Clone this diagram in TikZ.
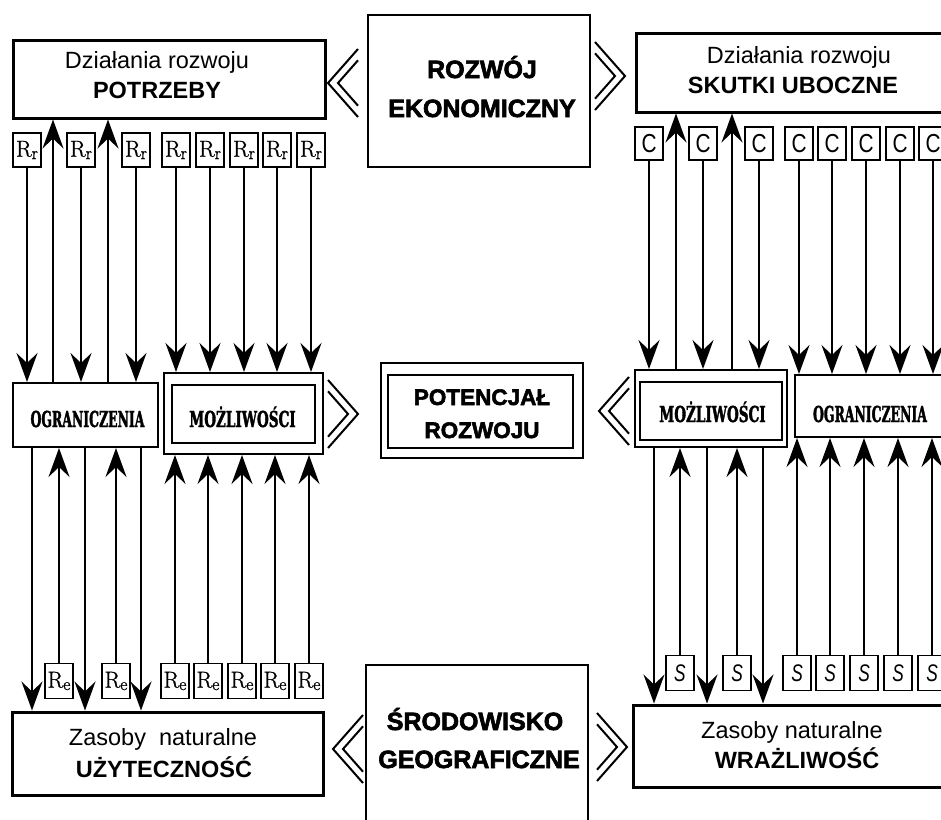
\documentclass[tikz,border=0pt]{standalone}
\usepackage{fontspec}
\setmainfont{Liberation Sans}
\newfontfamily\heavy[FakeBold=2.5]{Liberation Sans Bold}
\newfontfamily\slabA[FakeStretch=0.565,FakeBold=1.5]{DejaVu Serif Bold}
\newfontfamily\slabB[FakeStretch=0.615,FakeBold=1.5]{DejaVu Serif Bold}
\newfontfamily\rfont[FakeBold=0.8]{Latin Modern Roman}
\newfontfamily\sfit[FakeStretch=0.72]{Liberation Sans Italic}
\newfontfamily\cfont[FakeStretch=0.8]{Liberation Sans}
\usetikzlibrary{arrows.meta}
\newcommand{\rlab}[1]{{\rfont\fontsize{23}{23}\selectfont R\raisebox{-2.5pt}{\fontsize{18}{18}\selectfont #1}}}
\tikzset{
  bigbox/.style={draw, line width=3pt, inner sep=0pt},
  midbox/.style={draw, line width=2pt, inner sep=0pt},
  smallbox/.style={draw, line width=1.8pt, inner sep=0pt, minimum width=28pt, minimum height=34pt},
  arr/.style={line width=1.5pt, -{Stealth[length=29pt,width=21pt,inset=10pt]}},
  chev/.style={line width=2pt},
  lbl/.style={anchor=base, inner sep=0pt, font=\fontsize{23.5}{23.5}\selectfont},
  lblb/.style={anchor=base, inner sep=0pt, font=\fontsize{23.5}{23.5}\selectfont\bfseries},
  hv/.style={anchor=base, inner sep=0pt, font=\fontsize{25}{25}\selectfont\heavy},
  hvs/.style={anchor=base, inner sep=0pt, font=\fontsize{22.5}{22.5}\selectfont\heavy},
  slA/.style={anchor=base, inner sep=0pt, font=\fontsize{22}{22}\selectfont\slabA},
  slB/.style={anchor=base, inner sep=0pt, font=\fontsize{22}{22}\selectfont\slabB},
  chevL/.pic={\draw[chev] (30,-34)--(0,0)--(30,34); \draw[chev] (30,-22.7)--(10,0)--(30,22.7);},
  chevR/.pic={\draw[chev] (-30,-34)--(0,0)--(-30,34); \draw[chev] (-30,-22.7)--(-10,0)--(-30,22.7);}
}
\begin{document}
\begin{tikzpicture}[x=1pt,y=-1pt]
\useasboundingbox[fill=white] (0,0) rectangle (941,819);

% ---------- main boxes ----------
\node[bigbox, minimum width=312pt, minimum height=78pt] (pot) at (169,79) {};
\node[bigbox, line width=2.5pt, minimum width=222pt, minimum height=152pt] (roz) at (479,91) {};
\node[bigbox, minimum width=314pt, minimum height=79pt] (sk) at (793,72.5) {};
\node[bigbox, minimum width=311pt, minimum height=83pt] (use) at (167.5,753.5) {};
\node[bigbox, line width=2.5pt, minimum width=222pt, minimum height=170pt] (sro) at (477,750) {};
\node[bigbox, minimum width=317pt, minimum height=82pt] (wr) at (791.5,746) {};

% middle row
\node[midbox, minimum width=145pt, minimum height=64pt] (og1) at (85.5,415) {};
\node[midbox, minimum width=159pt, minimum height=81pt] (mz1) at (243.5,413.5) {};
\node[midbox, minimum width=143pt, minimum height=58pt] (mz1i) at (243.5,414) {};
\node[midbox, minimum width=202pt, minimum height=95pt] (pr) at (482,410.5) {};
\node[midbox, minimum width=185pt, minimum height=73pt] (pri) at (480.5,411.5) {};
\node[midbox, minimum width=152pt, minimum height=77pt] (mz2) at (711,408.5) {};
\node[midbox, minimum width=142pt, minimum height=58pt] (mz2i) at (711,411) {};
\node[midbox, minimum width=155pt, minimum height=62pt] (og2) at (872.5,406) {};

% ---------- texts ----------
\node[lbl] (t1a) at (157,68) {Działania rozwoju};
\node[lblb] (t1b) at (157,98) {POTRZEBY};
\node[lbl] (t2a) at (799,63) {Działania rozwoju};
\node[lblb] (t2b) at (793,93) {SKUTKI UBOCZNE};
\node[lbl] (t3a) at (163,745) {Zasoby~~naturalne};
\node[lblb] (t3b) at (164,777) {UŻYTECZNOŚĆ};
\node[lbl] (t4a) at (792,738) {Zasoby naturalne};
\node[lblb] (t4b) at (797,768) {WRAŻLIWOŚĆ};
\node[hv] (h1) at (482,78) {ROZWÓJ};
\node[hv] (h2) at (482,117) {EKONOMICZNY};
\node[hvs] (h3) at (482,405) {POTENCJAŁ};
\node[hvs] (h4) at (482,438) {ROZWOJU};
\node[hv] (h5) at (475,730) {ŚRODOWISKO};
\node[hv] (h6) at (479,768) {GEOGRAFICZNE};
\node[slA] (s1) at (87.5,427) {OGRANICZENIA};
\node[slB] (s2) at (242.5,427) {MOŻLIWOŚCI};
\node[slB] (s3) at (712.5,422) {MOŻLIWOŚCI};
\node[slA] (s4) at (870,422) {OGRANICZENIA};

% ---------- chevrons ----------
\pic at (328,83) {chevL};
\pic at (625,76) {chevR};
\pic at (358,414) {chevR};
\pic at (599,411) {chevL};
\pic at (333,749) {chevL};
\pic at (627,747) {chevR};

% ---------- left side: top small boxes ----------
\foreach \x [count=\i] in {27,81,136,176,210,244,277,311}
  \node[smallbox] (rr\i) at (\x,150) {\rlab{r}};
\foreach \i in {1,2,3} \draw[arr] (rr\i.south) -- (rr\i.south |- og1.north);
\foreach \i in {4,...,8} \draw[arr] (rr\i.south) -- (rr\i.south |- mz1.north);
\coordinate (ua1) at (53,0);
\coordinate (ua2) at (108,0);
\foreach \c in {ua1,ua2} \draw[arr] (\c |- og1.north) -- (\c |- pot.south);

% ---------- left side: bottom small boxes ----------
\foreach \x [count=\i] in {59,116,175,208,242,275,309}
  \node[smallbox, minimum height=35pt] (re\i) at (\x,681) {\rlab{e}};
\foreach \i in {1,2} \draw[arr] (re\i.north) -- (re\i.north |- og1.south);
\foreach \i in {3,...,7} \draw[arr] (re\i.north) -- (re\i.north |- mz1.south);
\coordinate (da1) at (32,0);
\coordinate (da2) at (85,0);
\coordinate (da3) at (141,0);
\foreach \c in {da1,da2,da3} \draw[arr] (\c |- og1.south) -- (\c |- use.north);

% ---------- right side: top small boxes ----------
\foreach \x [count=\i] in {649,703,759,799,832,866,900,933}
  \node[smallbox, minimum height=33pt, font=\fontsize{26}{26}\selectfont\cfont] (c\i) at (\x,143.5) {C};
\foreach \i in {1,2,3} \draw[arr] (c\i.south) -- (c\i.south |- mz2.north);
\foreach \i in {4,...,8} \draw[arr] (c\i.south) -- (c\i.south |- og2.north);
\coordinate (ub1) at (676,0);
\coordinate (ub2) at (732,0);
\foreach \c in {ub1,ub2} \draw[arr] (\c |- mz2.north) -- (\c |- sk.south);

% ---------- right side: bottom small boxes ----------
\foreach \x [count=\i] in {680,737,797,830,864,898,932}
  \node[smallbox, minimum height=35pt, font=\fontsize{24}{24}\selectfont\sfit] (sb\i) at (\x,673) {S};
\foreach \i in {1,2} \draw[arr] (sb\i.north) -- (sb\i.north |- mz2.south);
\foreach \i in {3,...,7} \draw[arr] (sb\i.north) -- (sb\i.north |- og2.south);
\coordinate (db1) at (654,0);
\coordinate (db2) at (707,0);
\coordinate (db3) at (763,0);
\foreach \c in {db1,db2,db3} \draw[arr] (\c |- mz2.south) -- (\c |- wr.north);
\end{tikzpicture}
\end{document}
